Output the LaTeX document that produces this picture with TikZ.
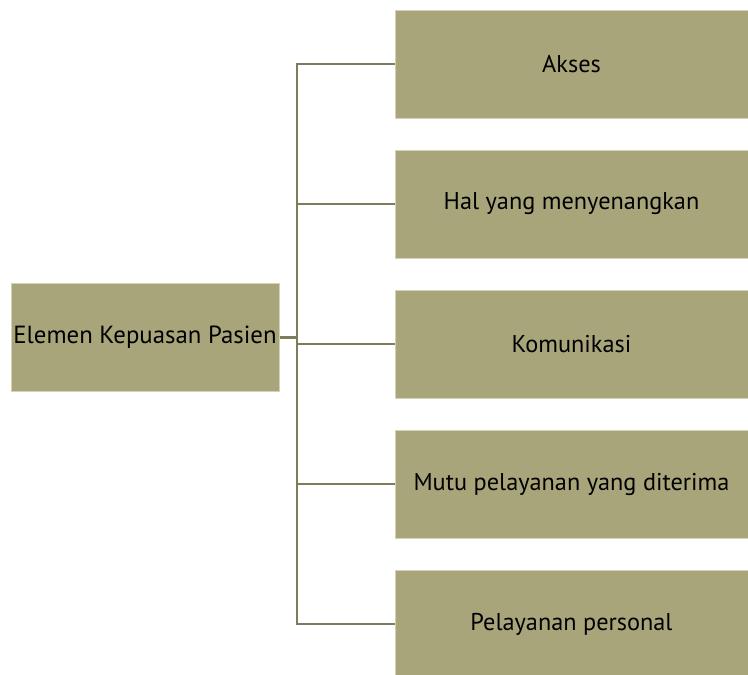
\documentclass[tikz,border=0pt]{standalone}
\usepackage{fontspec}
\setmainfont{PT Sans}
\definecolor{boxfill}{HTML}{A9A57B}
\definecolor{boxedge}{HTML}{D3D1B6}
\definecolor{linecol}{HTML}{7F7C5C}
\tikzset{
  itembox/.style={draw=boxedge, line width=1pt, fill=boxfill, minimum width=353pt, minimum height=108pt, inner sep=0pt, font=\fontsize{24.3}{28}\selectfont, text=black},
  rootbox/.style={draw=boxedge, line width=1pt, fill=boxfill, minimum width=268pt, minimum height=108pt, inner sep=0pt, font=\fontsize{24.8}{28}\selectfont, text=black},
  conn/.style={draw=linecol, line width=2.5pt}
}
\begin{document}
\begin{tikzpicture}[x=1pt,y=-1pt]
\useasboundingbox (0,0) rectangle (748,675);
\clip (0,0) rectangle (748,675);
\node[rootbox] (root) at (145,337.5) {Elemen Kepuasan Pasien};
\node[itembox] (a) at (571.5,64) {Akses};
\node[itembox] (b) at (571.5,204) {Hal yang menyenangkan};
\node[itembox] (c) at (571.5,344) {Komunikasi};
\node[itembox] (d) at (571.5,484) {Mutu pelayanan yang diterima};
\node[itembox] (e) at (571.5,624) {Pelayanan personal};
\coordinate (j) at (297,337.5);
\draw[conn] (root.east) -- (j);
\draw[conn] (a.west) -| (j) |- (e.west);
\draw[conn] (b.west) -- (b.west -| j);
\draw[conn] (c.west) -- (c.west -| j);
\draw[conn] (d.west) -- (d.west -| j);
\end{tikzpicture}
\end{document}
